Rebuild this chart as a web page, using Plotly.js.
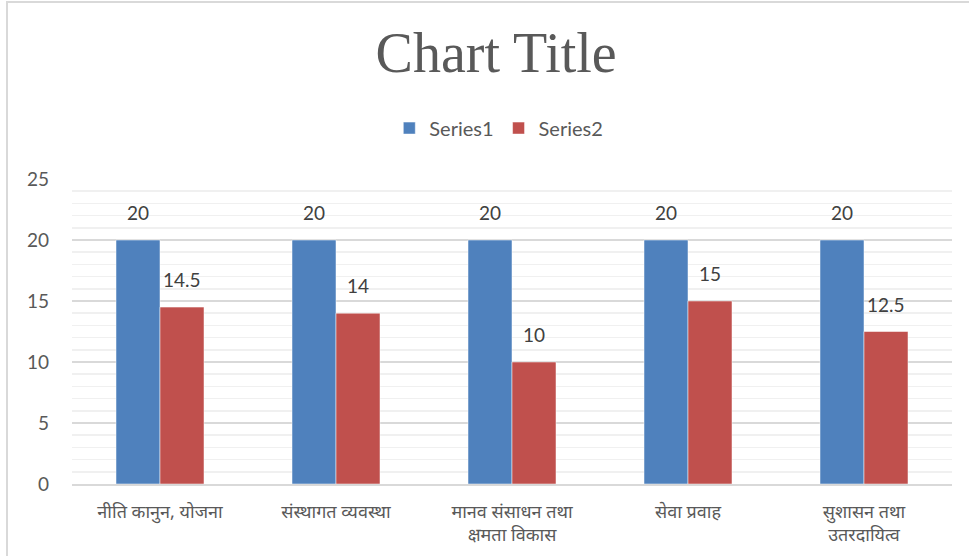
<!DOCTYPE html>
<html>
<head>
<meta charset="utf-8">
<script src="https://cdn.plot.ly/plotly-3.0.1.min.js"></script>
<style>
html,body{margin:0;padding:0;background:#fff;}
#chart{width:969px;height:556px;position:absolute;left:0;top:0;}
#frame{position:absolute;left:6px;top:1px;width:1000px;height:600px;border:2px solid #d9d9d9;pointer-events:none;}
</style>
</head>
<body>
<div id="chart"></div>
<div id="frame"></div>
<script>
const categories = ["नीति कानुन, योजना", "संस्थागत व्यवस्था", "मानव संसाधन तथा<br>क्षमता विकास", "सेवा प्रवाह", "सुशासन तथा<br>उतरदायित्व"];
const series1 = [20, 20, 20, 20, 20];
const series2 = [14.5, 14, 10, 15, 12.5];
const seriesNames = ["Series1", "Series2"];
const yTicks = [0, 5, 10, 15, 20, 25];

const labelFont = {family: "Lato, 'Liberation Sans', sans-serif", size: 19, color: "#404040"};
const traces = [
  {type: "bar", name: seriesNames[0], x: categories, y: series1, marker: {color: "#4f81bd", line: {color: "#ffffff", width: 0.5}}, offsetgroup: "a"},
  {type: "bar", name: seriesNames[1], x: categories, y: series2, marker: {color: "#c0504d", line: {color: "#ffffff", width: 0.5}}, offsetgroup: "b"}
];

const annotations = [];
[series1, series2].forEach((s, si) => {
  s.forEach((v, i) => {
    annotations.push({
      x: i + (si === 0 ? -0.125 : 0.125), y: v, xref: "x", yref: "y",
      text: String(v), showarrow: false, yanchor: "bottom", yshift: 14,
      font: labelFont
    });
  });
});

const layout = {
  width: 969, height: 556,
  margin: {l: 72, r: 17, t: 179, b: 72},
  paper_bgcolor: "#ffffff", plot_bgcolor: "#ffffff",
  title: {text: "Chart Title", x: 0.512, xanchor: "center", y: 0.905, yanchor: "middle", yref: "container",
          font: {family: "'Liberation Serif', 'DejaVu Serif', serif", size: 56, color: "#595959"}},
  bargap: 0.5, bargroupgap: 0,
  barmode: "group",
  showlegend: true,
  legend: {orientation: "h", x: 0.485, xanchor: "center", y: 1.167, yanchor: "middle",
           font: {family: "Lato, 'Liberation Sans', sans-serif", size: 20, color: "#595959"},
           tracegroupgap: 0},
  xaxis: {type: "category", showgrid: false, showline: true, linecolor: "#d9d9d9", linewidth: 2,
          ticks: "", ticklabelstandoff: 10,
          tickfont: {family: "'Noto Sans', 'Noto Sans Devanagari', sans-serif", size: 18, color: "#595959"}},
  yaxis: {range: [0, 25], tickvals: yTicks, showgrid: true, gridcolor: "#d9d9d9", gridwidth: 1.5,
          zeroline: false, showline: false, ticks: "", ticklabelstandoff: 22,
          tickfont: {family: "Lato, 'Liberation Sans', sans-serif", size: 19, color: "#595959"},
          minor: {dtick: 1, showgrid: true, gridcolor: "#f0f0f0", gridwidth: 1.5}},
  annotations: annotations
};

Plotly.newPlot("chart", traces, layout, {displayModeBar: false, staticPlot: true});
</script>
</body>
</html>
